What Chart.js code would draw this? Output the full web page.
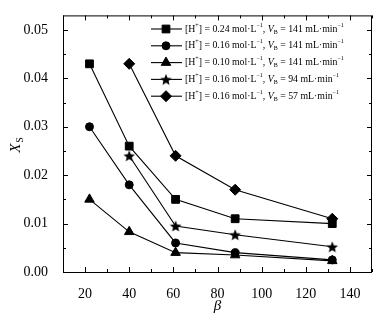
<!DOCTYPE html>
<html>
<head>
<meta charset="utf-8">
<script src="https://cdn.jsdelivr.net/npm/chart.js@4"></script>
<style>
  body { margin: 0; background: #fff; }
  #wrap { width: 387px; height: 325px; }
</style>
</head>
<body>
<div id="wrap"><canvas id="myChart" width="387" height="325"></canvas></div>
<script>
// data
const beta = [22, 40, 61, 88, 132];
const xs024v141 = [0.043, 0.026, 0.015, 0.011, 0.010];
const xs016v141 = [0.030, 0.018, 0.006, 0.004, 0.0025];
const xs010v141 = [0.015, 0.0083, 0.004, 0.0035, 0.0023];
const xs016v94 = [null, 0.024, 0.0095, 0.0077, 0.0052];
const xs016v57 = [null, 0.043, 0.024, 0.017, 0.011];
const conc = ["0.24", "0.16", "0.10", "0.16", "0.16"];
const flow = ["141", "141", "141", "94", "57"];
const xTicks = [20, 40, 60, 80, 100, 120, 140];
const yTicks = [0, 0.01, 0.02, 0.03, 0.04, 0.05];

const serif = "'Liberation Serif', 'DejaVu Serif', serif";
Chart.defaults.font.family = serif;

// filled five point star, since chart.js 'star' is only strokes
function makeStar(r) {
    let c = document.createElement("canvas");
    c.width = Math.ceil(r * 2 + 2);
    c.height = Math.ceil(r * 2 + 2);
    let g = c.getContext("2d");
    g.fillStyle = "#000";
    g.beginPath();
    for (let i = 0; i < 10; i++) {
        let rad = i % 2 === 0 ? r : r * 0.45;
        let a = -Math.PI / 2 + i * Math.PI / 5;
        let px = c.width / 2 + rad * Math.cos(a);
        let py = c.height / 2 + rad * Math.sin(a) + 0.6;
        if (i === 0) g.moveTo(px, py); else g.lineTo(px, py);
    }
    g.closePath();
    g.fill();
    return c;
}
const starImg = makeStar(6);

function toPoints(arr) {
    let pts = [];
    for (let i = 0; i < beta.length; i++) {
        if (arr[i] !== null) pts.push({ x: beta[i], y: arr[i] });
    }
    return pts;
}

function series(arr, style, radius) {
    return {
        data: toPoints(arr),
        borderColor: "#000",
        backgroundColor: "#000",
        borderWidth: 1.1,
        pointStyle: style,
        pointRadius: radius,
        pointBorderWidth: 1,
        pointBorderColor: "#000",
        pointBackgroundColor: "#000",
        tension: 0
    };
}

const allSeries = [
    series(xs024v141, "rect", 5.5),
    series(xs016v141, "circle", 4),
    series(xs010v141, "triangle", 5.5),
    series(xs016v94, starImg, 6),
    series(xs016v57, "rectRot", 5.5)
];

// inside ticks, frame, axis titles and the legend box
const decorations = {
    id: "decorations",
    afterDraw(chart) {
        const ctx = chart.ctx;
        const a = chart.chartArea;
        const xs = chart.scales.x;
        const ys = chart.scales.y;
        ctx.save();
        ctx.strokeStyle = "#000";
        ctx.lineWidth = 1;
        ctx.strokeRect(a.left + 0.5, a.top + 0.5, a.right - a.left - 1, a.bottom - a.top);

        ctx.beginPath();
        for (let v = 10; v <= 150; v += 10) {
            let px = Math.round(xs.getPixelForValue(v)) + 0.5;
            let len = v % 20 === 0 ? 5 : 3;
            ctx.moveTo(px, a.bottom); ctx.lineTo(px, a.bottom - len);
            ctx.moveTo(px, a.top); ctx.lineTo(px, a.top + len);
        }
        for (let k = 0; k <= 10; k++) {
            let v = k * 0.005;
            let py = Math.round(ys.getPixelForValue(v)) + 0.5;
            let len = k % 2 === 0 ? 5 : 3;
            ctx.moveTo(a.left, py); ctx.lineTo(a.left + len, py);
            ctx.moveTo(a.right, py); ctx.lineTo(a.right - len, py);
        }
        ctx.stroke();

        // x title
        ctx.fillStyle = "#000";
        ctx.font = "italic 15px " + serif;
        ctx.textAlign = "center";
        ctx.textBaseline = "middle";
        ctx.fillText("β", (a.left + a.right) / 2, 306);

        // y title
        ctx.save();
        ctx.translate(16, (a.top + a.bottom) / 2);
        ctx.rotate(-Math.PI / 2);
        ctx.font = "italic 15px " + serif;
        ctx.textAlign = "right";
        ctx.fillText("X", 0, 0);
        ctx.font = "10px " + serif;
        ctx.textAlign = "left";
        ctx.fillText("S", 1, 4);
        ctx.restore();

        // legend
        for (let i = 0; i < allSeries.length; i++) {
            let ly = 29 + i * 16.8;
            ctx.beginPath();
            ctx.lineWidth = 1.1;
            ctx.moveTo(151, ly); ctx.lineTo(182, ly);
            ctx.stroke();
            let ds = allSeries[i];
            if (typeof ds.pointStyle === "string") {
                ctx.lineWidth = 1;
                Chart.helpers.drawPoint(ctx, { pointStyle: ds.pointStyle, radius: ds.pointRadius, borderWidth: 1 }, 166, ly);
            } else {
                ctx.drawImage(ds.pointStyle, 166 - ds.pointStyle.width / 2, ly - ds.pointStyle.height / 2);
            }
            drawLabel(ctx, 185, ly, conc[i], flow[i]);
        }
        ctx.restore();
    }
};

function drawLabel(ctx, x, y, c, f) {
    let parts = [
        ["[H", ""],
        ["+", "sup"],
        ["] = " + c + " mol·L", ""],
        ["−1", "sup"],
        [", ", ""],
        ["V", "it"],
        ["B", "sub"],
        [" = " + f + " mL·min", ""],
        ["−1", "sup"]
    ];
    ctx.textAlign = "left";
    ctx.textBaseline = "middle";
    ctx.fillStyle = "#000";
    let cx = x;
    for (let p of parts) {
        let dy = 0;
        if (p[1] === "sup") { ctx.font = "6px " + serif; dy = -4; }
        else if (p[1] === "sub") { ctx.font = "6px " + serif; dy = 3; }
        else if (p[1] === "it") { ctx.font = "italic 9.8px " + serif; }
        else { ctx.font = "9.8px " + serif; }
        ctx.fillText(p[0], cx, y + dy);
        cx += ctx.measureText(p[0]).width;
    }
}

let myChart = new Chart(document.getElementById("myChart"), {
    type: "line",
    data: { datasets: allSeries },
    plugins: [decorations],
    options: {
        responsive: false,
        animation: false,
        layout: { padding: { top: 15, right: 15, left: 0, bottom: 0 } },
        plugins: { legend: { display: false }, tooltip: { enabled: false } },
        scales: {
            x: {
                type: "linear",
                min: 10,
                max: 150,
                afterFit: s => { s.height = 53; },
                afterBuildTicks: s => { s.ticks = xTicks.map(v => ({ value: v })); },
                grid: { display: false },
                border: { display: false },
                ticks: { color: "#000", padding: 6, font: { family: serif, size: 14 } }
            },
            y: {
                min: 0,
                max: 0.053,
                afterFit: s => { s.width = 63; },
                afterBuildTicks: s => { s.ticks = yTicks.map(v => ({ value: v })); },
                grid: { display: false },
                border: { display: false },
                ticks: {
                    color: "#000",
                    padding: 7,
                    font: { family: serif, size: 14 },
                    callback: v => v.toFixed(2)
                }
            }
        }
    }
});
</script>
</body>
</html>
